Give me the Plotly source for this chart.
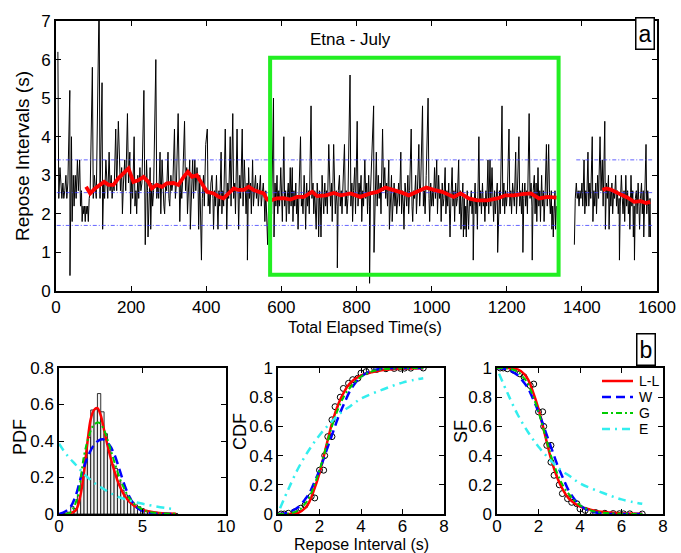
import numpy as np
import plotly.graph_objects as go

# ---------------- DATA ----------------
# Repose intervals (s), first recording segment (starts at t = 5 s)
seg1_start = 5.0
seg1_values = [
    6.2, 2.4, 3.2, 2.6, 2.4, 2.8, 2.4, 2.6, 3.0, 2.4, 2.8, 5.2, 0.4, 4.0, 1.8, 3.0, 2.2, 3.0, 2.4, 3.4,
    2.6, 3.4, 2.2, 2.6, 1.8, 2.2, 2.0, 2.2, 1.8, 2.2, 2.0, 2.2, 1.8, 2.4, 2.6, 5.8,
    2.4, 3.0, 2.6, 2.4, 7.6, 2.4, 5.4, 1.6, 2.8, 2.4, 3.4, 2.6, 2.4, 3.6, 2.6, 3.0, 2.4, 2.8, 2.6, 4.2,
    2.6, 4.4, 3.0, 2.6, 3.2, 2.0, 2.8, 3.4, 2.6, 4.6, 2.8, 3.6, 2.0, 3.0,
    2.4, 4.0, 2.2, 2.6, 2.0, 3.0, 2.4, 3.2, 2.6, 2.8, 5.2, 2.4, 1.2, 3.4, 2.6, 1.4, 2.4, 3.2, 1.6, 2.8,
    2.2, 2.6, 6.0, 2.4, 2.8, 2.4, 3.6, 2.0, 3.4, 2.6, 2.2, 2.0, 2.8, 2.6, 3.6, 2.4,
    2.2, 3.0, 2.6, 2.8, 4.2, 2.4, 2.8, 4.6, 2.6, 1.8, 2.8, 2.4, 3.0, 4.4, 2.6, 3.2, 2.0, 2.6, 3.4, 1.6,
    2.8, 3.4, 2.4, 3.4, 2.6, 3.2, 2.8, 1.6, 3.0, 2.2, 1.4, 0.8, 2.4, 3.0, 2.2, 3.8, 4.2,
    2.2, 2.6, 2.0, 2.8, 3.0, 2.4, 1.6, 2.6, 2.2, 3.0, 2.4, 1.6, 2.6, 2.2, 3.6, 2.0, 2.6, 2.2, 4.2, 2.4,
    1.6, 2.8, 2.4, 4.0, 2.2, 4.6, 2.4, 2.8, 2.0, 4.2, 2.6, 1.6, 3.0, 2.4, 4.2, 2.2, 3.4,
    2.6, 2.0, 2.8, 0.8, 3.2, 2.4, 2.8, 2.0, 3.4, 2.2, 2.6, 3.0, 2.4, 2.8, 2.2, 2.6, 3.0, 2.2, 2.6, 2.8,
    2.4, 1.8, 2.6, 2.0, 1.6, 1.2, 2.0, 2.6,
    1.4, 2.6, 2.0, 5.0, 1.4, 2.8, 2.2, 3.0, 2.0, 2.6, 2.2, 3.2, 2.4, 1.8, 4.0, 2.2, 2.6, 1.8, 2.4, 2.8,
    2.0, 3.2, 2.2, 3.2, 1.8, 2.6, 2.2, 2.8, 2.0, 2.4, 1.6, 2.6, 4.0, 2.2, 2.4, 2.0, 3.0, 2.4, 1.6, 2.8,
    2.2, 2.6, 2.0, 4.8, 2.4, 2.8, 2.0, 2.6, 2.2, 1.6, 2.8, 2.4, 1.4,
    2.6, 2.2, 1.4, 3.0, 2.4, 2.0, 2.8, 2.2, 2.6, 2.0, 3.8, 2.4, 2.2, 2.8, 1.8, 3.8, 2.4, 2.0, 2.6, 2.2,
    0.6, 2.6, 3.0, 2.2, 2.6, 2.0, 2.8, 3.8, 2.2, 2.6, 2.0, 2.4, 5.6, 2.2, 2.8, 1.8, 2.6, 3.2, 2.0, 4.4,
    2.2, 2.8, 2.4, 3.0, 1.8, 2.6, 2.2, 3.4, 2.4, 2.8, 2.0, 3.0, 2.2, 0.2, 2.6, 3.4, 4.8, 1.0, 2.6, 3.6,
    2.2, 3.0, 2.4, 2.8, 2.0, 4.2, 2.6, 3.2, 2.4, 2.8, 2.2, 3.4, 1.6, 2.6, 3.0, 1.8, 2.4, 2.8,
    2.2, 2.6, 2.0, 2.4, 2.8, 2.2, 3.6, 2.0, 2.6, 2.2, 1.6, 2.8, 2.4, 2.2, 3.0, 2.0, 2.6, 4.2, 2.2, 1.8,
    2.6, 2.4, 3.0, 2.0, 2.6, 3.8, 2.2, 2.8, 4.8, 2.2, 2.6, 2.0, 3.0, 5.0, 2.4, 1.8, 2.8, 2.2,
    2.6, 2.2, 3.2, 2.4, 3.4, 2.0, 3.0, 2.4, 2.6, 1.8, 2.8, 2.2, 2.4, 3.2, 2.0, 2.6, 2.2, 2.8, 2.0, 1.4,
    2.4, 3.2, 2.2, 2.6, 1.8, 2.8, 2.2, 2.4, 3.4, 2.0, 2.6, 1.6, 2.2, 2.8, 1.4, 2.4, 1.6, 2.2, 1.4, 2.6,
    2.0, 1.6, 2.4,
    2.2, 2.6, 2.0, 2.4, 0.8, 2.2, 2.8, 2.0, 2.4, 1.6, 4.0, 2.2, 2.6, 2.0, 2.8, 2.2, 2.4, 1.8, 2.6, 2.2,
    3.4, 2.0, 3.4, 2.2, 3.2, 2.4, 1.8, 2.6, 2.0, 2.4, 2.8, 1.0, 2.2, 2.6, 2.0, 4.8, 2.2, 2.8, 2.0, 2.6,
    2.2,
    2.6, 4.2, 2.2, 2.6, 2.0, 2.8, 2.4, 2.2, 3.6, 2.0, 2.6, 4.0, 2.2, 2.6, 2.0, 2.8, 1.0, 2.4, 2.8, 2.2,
    2.6, 2.0, 4.6, 2.4, 2.8, 2.2, 0.8, 2.6, 3.0, 2.0, 2.8, 1.8, 3.2, 2.2, 2.6, 1.8, 3.0, 2.2, 2.6, 1.8,
    2.4, 3.8, 2.2, 3.8, 2.4, 2.0, 2.6, 1.6, 2.2, 1.4, 2.0, 2.6, 1.6, 2.2,
]
# Second recording segment (starts at t = 1380 s)
seg2_start = 1380.0
seg2_values = [
    1.2, 2.4, 2.8, 2.4, 2.6, 2.2, 2.6, 2.4, 2.8, 2.2, 3.4, 2.0, 2.6, 2.2, 3.6, 2.2, 2.8, 2.4, 4.0, 1.8,
    2.6, 2.2, 2.8, 2.0, 3.0, 2.4, 4.0, 2.6, 3.4, 2.2, 4.4, 1.6, 2.8, 2.4, 3.0, 1.6, 2.6, 2.2, 2.8, 2.0,
    2.6, 2.4, 3.0, 2.2, 2.6, 2.0, 2.4, 0.8, 2.2, 3.0, 2.4, 2.0, 2.6, 1.8, 3.0, 2.2, 2.6, 2.0, 2.4, 1.6,
    3.0, 2.2, 2.6, 1.4, 2.2, 0.8, 2.4, 2.6, 2.0, 2.8, 2.2, 1.6, 2.4, 2.8, 2.0, 2.6, 1.4, 2.2, 3.8, 2.0,
    2.6, 2.2, 1.4, 2.4, 1.4,
]

# Running mean (red)
mean1_t = [80, 91, 104, 117, 128, 140, 153, 166, 180, 193, 206, 219, 233, 246, 255, 268, 282, 295, 313, 326,
           340, 351, 362, 375, 388, 402, 420, 433, 446, 460, 473, 486, 500, 513, 526, 540, 553, 562, 572, 588,
           606, 624, 642, 660, 682, 695, 718, 740, 758, 784, 810, 837, 855, 877, 899, 921, 939, 961, 986, 1006,
           1028, 1059, 1077, 1099, 1121, 1148, 1175, 1197, 1219, 1241, 1264, 1286, 1308, 1333]
mean1_v = [2.70, 2.53, 2.66, 2.75, 2.83, 2.75, 2.75, 2.92, 3.05, 3.18, 2.83, 2.87, 2.96, 2.83, 2.66, 2.75, 2.70, 2.79, 2.80, 2.75,
           2.96, 3.09, 2.96, 3.00, 2.79, 2.57, 2.53, 2.44, 2.40, 2.53, 2.66, 2.62, 2.62, 2.70, 2.62, 2.57, 2.53, 2.37, 2.35, 2.40,
           2.41, 2.37, 2.44, 2.44, 2.57, 2.46, 2.48, 2.54, 2.48, 2.53, 2.44, 2.53, 2.57, 2.68, 2.62, 2.55, 2.48, 2.57, 2.68, 2.62,
           2.57, 2.44, 2.53, 2.40, 2.35, 2.35, 2.40, 2.48, 2.48, 2.51, 2.53, 2.40, 2.44, 2.42]
mean2_t = [1455, 1464, 1477, 1495, 1508, 1522, 1539, 1557, 1571, 1582]
mean2_v = [2.62, 2.66, 2.63, 2.53, 2.48, 2.42, 2.31, 2.33, 2.28, 2.31]

# Reference levels (blue dotted) and their time spans
ref_levels = [1.7, 2.55, 3.4]
ref_spans = [(2, 1332), (1385, 1587)]

# Analysed window (green box)
window_t = (570, 1338)
window_v = (0.42, 6.05)

# Histogram (PDF) of repose intervals, bin width 0.2 s
hist_centers = [0.2, 0.4, 0.6, 0.8, 1.0, 1.2, 1.4, 1.6, 1.8, 2.0, 2.2, 2.4, 2.6, 2.8, 3.0, 3.2, 3.4, 3.6,
                3.8, 4.0, 4.2, 4.4, 4.6, 4.8, 5.0, 5.2, 5.4, 5.6, 5.8, 6.0, 6.2, 6.4, 6.6, 6.8, 7.0]
hist_density = [0.005, 0.005, 0.01, 0.04, 0.03, 0.10, 0.20, 0.31, 0.42, 0.57, 0.575, 0.66, 0.56, 0.44, 0.36, 0.27, 0.25, 0.18,
                0.13, 0.105, 0.09, 0.065, 0.05, 0.04, 0.03, 0.02, 0.015, 0.01, 0.01, 0.008, 0.005, 0.005, 0.003, 0.003, 0.003]
hist_width = 0.2

# Fitted PDFs
pdf_ll_x = [0.5, 1.0, 1.3, 1.5, 1.7, 1.9, 2.1, 2.3, 2.5, 2.7, 3.0, 3.3, 3.6, 4.0, 4.5, 5.0, 5.5, 6.0, 7.0]
pdf_ll_y = [0.0, 0.02, 0.11, 0.23, 0.39, 0.52, 0.57, 0.58, 0.54, 0.46, 0.34, 0.24, 0.16, 0.09, 0.045, 0.022, 0.012, 0.006, 0.002]
pdf_w_x = [0.0, 0.4, 0.7, 1.0, 1.4, 1.8, 2.2, 2.6, 3.0, 3.3, 3.6, 4.0, 4.4, 4.8, 5.4, 6.0, 7.0]
pdf_w_y = [0.0, 0.015, 0.04, 0.10, 0.23, 0.33, 0.39, 0.41, 0.38, 0.33, 0.25, 0.14, 0.065, 0.026, 0.006, 0.001, 0.0]
pdf_g_x = [0.4, 0.7, 1.1, 1.5, 1.8, 2.1, 2.4, 2.7, 3.0, 3.3, 3.8, 4.4, 5.2, 6.0, 7.0]
pdf_g_y = [0.0, 0.01, 0.09, 0.32, 0.43, 0.49, 0.50, 0.46, 0.38, 0.29, 0.16, 0.065, 0.016, 0.004, 0.001]
pdf_e_x = [0.0, 0.5, 1.0, 1.6, 2.2, 2.8, 3.4, 4.0, 4.8, 5.6, 6.4, 7.0]
pdf_e_y = [0.385, 0.32, 0.27, 0.21, 0.165, 0.13, 0.10, 0.08, 0.06, 0.045, 0.033, 0.026]

# Fitted CDFs (SF = 1 - CDF)
cdf_x = [0.0, 0.5, 1.0, 1.3, 1.5, 1.7, 2.0, 2.3, 2.6, 2.9, 3.2, 3.5, 4.0, 4.5, 5.0, 6.0, 7.0]
cdf_ll = [0.0, 0.0, 0.01, 0.04, 0.08, 0.15, 0.28, 0.45, 0.62, 0.75, 0.84, 0.90, 0.95, 0.97, 0.985, 0.995, 0.998]
cdf_w = [0.0, 0.01, 0.05, 0.10, 0.14, 0.20, 0.30, 0.42, 0.54, 0.66, 0.76, 0.85, 0.94, 0.98, 0.995, 1.0, 1.0]
cdf_g = [0.0, 0.002, 0.025, 0.07, 0.11, 0.18, 0.30, 0.45, 0.60, 0.72, 0.81, 0.87, 0.94, 0.975, 0.99, 0.998, 1.0]
cdf_e_x = [0.1, 0.5, 1.0, 1.5, 2.0, 2.5, 3.0, 3.5, 4.0, 5.0, 6.0, 7.0]
cdf_e = [0.04, 0.17, 0.32, 0.44, 0.54, 0.62, 0.69, 0.74, 0.79, 0.85, 0.90, 0.93]

# Empirical CDF points (circles)
emp_x = [0.15, 0.3, 0.5, 0.8, 1.1, 1.3, 1.6, 1.77, 2.0, 2.2, 2.25, 2.4, 2.6, 2.6, 2.75, 3.0, 3.15, 3.4,
         3.6, 3.85, 4.0, 4.25, 4.4, 4.75, 5.2, 5.6, 5.9, 6.1, 6.4, 7.0]
emp_cdf = [0.0, 0.0, 0.005, 0.015, 0.04, 0.06, 0.12, 0.11, 0.30, 0.30, 0.40, 0.53, 0.53, 0.645, 0.735, 0.80, 0.86, 0.895,
           0.92, 0.93, 0.965, 0.975, 0.985, 0.99, 0.995, 0.997, 0.998, 0.999, 0.999, 1.0]

fit_names = ["L-L", "W", "G", "E"]

# ---------------- FIGURE ----------------
W, H = 681, 553
FONT = "Liberation Sans, Arial, sans-serif"


def px(x):
    return x / W


def py(y):
    return 1 - y / H


fig = go.Figure()

v1 = np.array(seg1_values)
t1 = seg1_start + np.cumsum(v1) - v1[0]
v2 = np.array(seg2_values)
t2 = seg2_start + np.cumsum(v2) - v2[0]
ts_x = list(t1) + [None] + list(t2)
ts_y = list(v1) + [None] + list(v2)

fig.add_trace(go.Scatter(x=ts_x, y=ts_y, mode="lines", line=dict(color="black", width=1),
                         showlegend=False, xaxis="x", yaxis="y"))

for lv in ref_levels:
    xs, ys = [], []
    for a, b in ref_spans:
        xs += [a, b, None]
        ys += [lv, lv, None]
    fig.add_trace(go.Scatter(x=xs, y=ys, mode="lines",
                             line=dict(color="rgba(60,60,255,0.8)", width=1, dash="4px,2px,1px,2px"),
                             showlegend=False, xaxis="x", yaxis="y"))

fig.add_trace(go.Scatter(x=mean1_t + [None] + mean2_t, y=mean1_v + [None] + mean2_v, mode="lines",
                         line=dict(color="#ff0000", width=3.8), showlegend=False, xaxis="x", yaxis="y"))

fig.add_shape(type="rect", xref="x", yref="y", x0=window_t[0], x1=window_t[1], y0=window_v[0], y1=window_v[1],
              line=dict(color="#22ee22", width=4), layer="above")

# styles for fits
styles = {
    "L-L": dict(color="#ff0000", width=2.5),
    "W": dict(color="#0000ff", width=2.5, dash="9px,5px"),
    "G": dict(color="#00cc00", width=2, dash="6px,3px,2px,3px"),
    "E": dict(color="#33eeee", width=2.5, dash="8px,5px,2px,5px"),
}

# PDF panel
fig.add_trace(go.Bar(x=hist_centers, y=hist_density, width=hist_width,
                     marker=dict(color="#f2f2f2", line=dict(color="black", width=0.8)),
                     showlegend=False, xaxis="x2", yaxis="y2"))
pdf_sets = [(pdf_ll_x, pdf_ll_y), (pdf_w_x, pdf_w_y), (pdf_g_x, pdf_g_y), (pdf_e_x, pdf_e_y)]
for name, (xx, yy) in zip(fit_names, pdf_sets):
    fig.add_trace(go.Scatter(x=xx, y=yy, mode="lines", line=dict(shape="spline", **styles[name]),
                             showlegend=False, xaxis="x2", yaxis="y2"))

# CDF panel
fig.add_trace(go.Scatter(x=emp_x, y=emp_cdf, mode="markers",
                         marker=dict(symbol="circle-open", size=6, color="black", line=dict(width=1)),
                         showlegend=False, xaxis="x3", yaxis="y3"))
cdf_sets = [(cdf_x, cdf_ll), (cdf_x, cdf_w), (cdf_x, cdf_g), (cdf_e_x, cdf_e)]
for name, (xx, yy) in zip(fit_names, cdf_sets):
    fig.add_trace(go.Scatter(x=xx, y=yy, mode="lines", line=dict(shape="spline", **styles[name]),
                             showlegend=False, xaxis="x3", yaxis="y3"))

# SF panel
fig.add_trace(go.Scatter(x=emp_x, y=[1 - c for c in emp_cdf], mode="markers",
                         marker=dict(symbol="circle-open", size=6, color="black", line=dict(width=1)),
                         showlegend=False, xaxis="x4", yaxis="y4"))
for name, (xx, yy) in zip(fit_names, cdf_sets):
    fig.add_trace(go.Scatter(x=xx, y=[1 - c for c in yy], mode="lines", name=name,
                             line=dict(shape="spline", **styles[name]),
                             showlegend=False, xaxis="x4", yaxis="y4"))

axis_common = dict(showline=True, linecolor="black", mirror="ticks", ticks="inside", ticklen=5,
                   tickcolor="black", tickwidth=1, showgrid=False, zeroline=False, automargin=False,
                   tickfont=dict(family=FONT, size=17, color="black"))
bottom_x = dict(ticklabelstandoff=-4)

fig.update_layout(
    width=W, height=H, margin=dict(l=0, r=0, t=0, b=0, pad=0, autoexpand=False),
    paper_bgcolor="white", plot_bgcolor="white",
    font=dict(family=FONT, color="black"),
    barmode="overlay", showlegend=False,
    xaxis=dict(domain=[px(56), px(657)], range=[0, 1600], dtick=200, linewidth=2, anchor="y", **axis_common),
    yaxis=dict(domain=[py(291), py(21)], range=[0, 7], dtick=1, linewidth=2, anchor="x", **axis_common),
    xaxis2=dict(domain=[px(59), px(226)], range=[0, 10], dtick=5, linewidth=1.5, anchor="y2", **axis_common, **bottom_x),
    yaxis2=dict(domain=[py(514), py(368)], range=[0, 0.8], dtick=0.2, linewidth=1.5, anchor="x2", **axis_common),
    xaxis3=dict(domain=[px(278), px(444)], range=[0, 8], dtick=2, linewidth=1.5, anchor="y3", **axis_common, **bottom_x),
    yaxis3=dict(domain=[py(514), py(368)], range=[0, 1], dtick=0.2, linewidth=1.5, anchor="x3", **axis_common),
    xaxis4=dict(domain=[px(497), px(663)], range=[0, 8], dtick=2, linewidth=1.5, anchor="y4", **axis_common, **bottom_x),
    yaxis4=dict(domain=[py(514), py(368)], range=[0, 1], dtick=0.2, linewidth=1.5, anchor="x4", **axis_common),
)
fig.update_yaxes(tickformat="~g")


def label(text, x, y, size, angle=0, box=False, xanchor="center", pad=1):
    d = dict(text=text, x=px(x), y=py(y), xref="paper", yref="paper", showarrow=False,
             font=dict(family=FONT, size=size, color="black"), textangle=angle,
             xanchor=xanchor, yanchor="middle")
    if box:
        d.update(bordercolor="black", borderwidth=1.5, bgcolor="white", borderpad=pad)
    else:
        d.update(borderpad=0)
    fig.add_annotation(**d)


label("Repose Intervals (s)", 22, 156, 19, angle=-90)
label("Total Elapsed Time(s)", 365, 327, 16)
label("Etna - July", 350, 39, 17)
label("a", 645, 34, 23, box=True, pad=2)
label("b", 646, 349, 23, box=True, pad=2)
label("PDF", 20, 437, 18, angle=-90)
label("CDF", 240, 432, 18, angle=-90)
label("SF", 461, 432, 18, angle=-90)
label("Repose Interval (s)", 361, 544, 16)

# Legend (SF panel) drawn as key lines + labels
legend_rows = [381, 397, 413, 429]
for name, yrow in zip(fit_names, legend_rows):
    st = styles[name]
    fig.add_shape(type="line", xref="paper", yref="paper", x0=px(602), x1=px(633), y0=py(yrow), y1=py(yrow),
                  line=dict(color=st["color"], width=st["width"], dash=st.get("dash", "solid")))
    label(name, 638, yrow, 14, xanchor="left")

fig.write_html("out.html", config={"displayModeBar": False},
               post_script="document.body.style.margin='0px';document.body.style.padding='0px';")
